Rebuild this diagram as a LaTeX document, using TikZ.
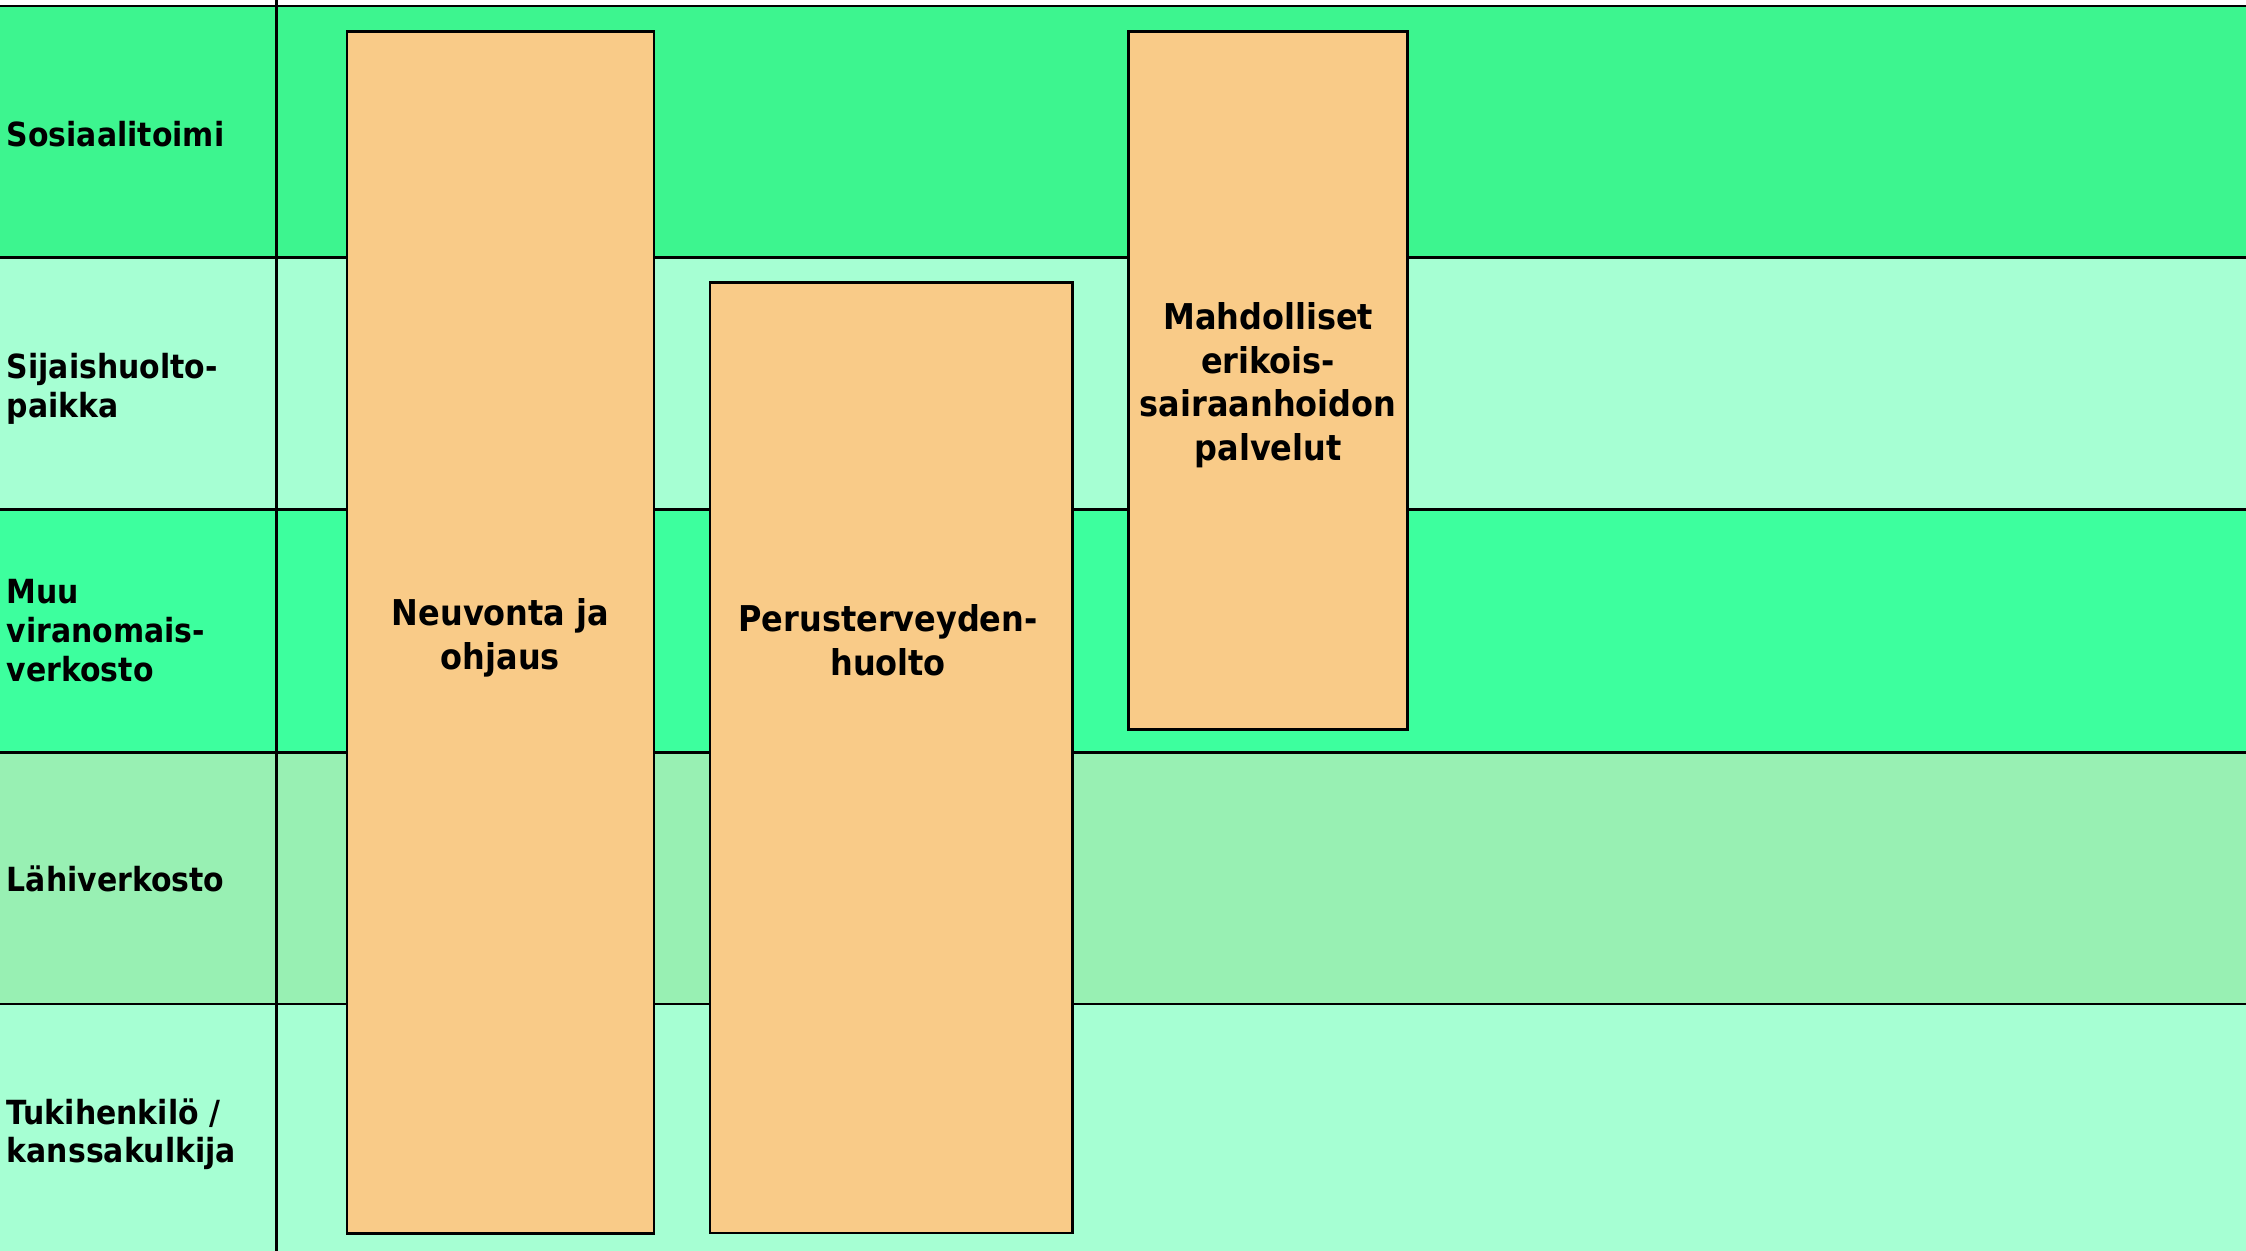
\documentclass[tikz,border=0pt]{standalone}
\usepackage{fontspec}
\newfontfamily\lanefont{DejaVuSansCondensed-Bold.ttf}
\definecolor{laneA}{HTML}{3DF58F}
\definecolor{laneB}{HTML}{A6FFD3}
\definecolor{laneC}{HTML}{3DFF9E}
\definecolor{laneD}{HTML}{98F0B3}
\definecolor{serviceorange}{HTML}{F9CB88}
\begin{document}
\begin{tikzpicture}[x=0.5pt,y=-0.5pt]
            \tikzset{
                lane label/.style={anchor=west,align=left,inner sep=0pt,font=\lanefont\fontsize{11.6}{13.5}\selectfont},
                service/.style={draw,line width=0.9pt,fill=serviceorange},
                service text/.style={align=center,inner sep=0pt,font=\lanefont\fontsize{12.4}{15.3}\selectfont},}
            \useasboundingbox (0,0) rectangle (1568,873);
            \fill [white](0,0) rectangle (1568,873);
            % kaistat
            \foreach \i/\ytop/\ybot/\col/\ylab/\txt in {1/4.2/179.6/laneA/93.4/{Sosiaalitoimi},
                    2/179.6/355.6/laneB/271.6/{Sijaishuolto-\\paikka},
                    3/355.6/525.4/laneC/440.3/{Muu\\viranomais-\\verkosto},
                    4/525.4/701/laneD/613.7/{Lähiverkosto},
                    5/701/873/laneB/791.9/{Tukihenkilö /\\kanssakulkija}}{
                \fill [\col](0,\ytop) rectangle (1568,\ybot);
                \draw [line width=0.9pt](0,\ytop) -- (1568,\ytop);
                \node [lane label] (lane\i) at (4.4,\ylab) {\txt};
            }
            \draw [line width=0.9pt](193.2,0) -- (193.2,873);
            % palvelut
            \draw [service](242.2,22.1) rectangle (456.6,861);
            \node [service text] (neuvonta) at (349.4,445) {Neuvonta ja\\ohjaus};
            \draw [service](495.8,197.1) rectangle (748.7,860.7);
            \node [service text] (perus) at (620,447.2) {Perusterveyden-\\huolto};
            \draw [service](787.9,22.1) rectangle (982.8,509.3);
            \node [service text] (erikois) at (885.3,268.9) {Mahdolliset\\erikois-\\sairaanhoidon\\palvelut};
        \end{tikzpicture}
\end{document}
